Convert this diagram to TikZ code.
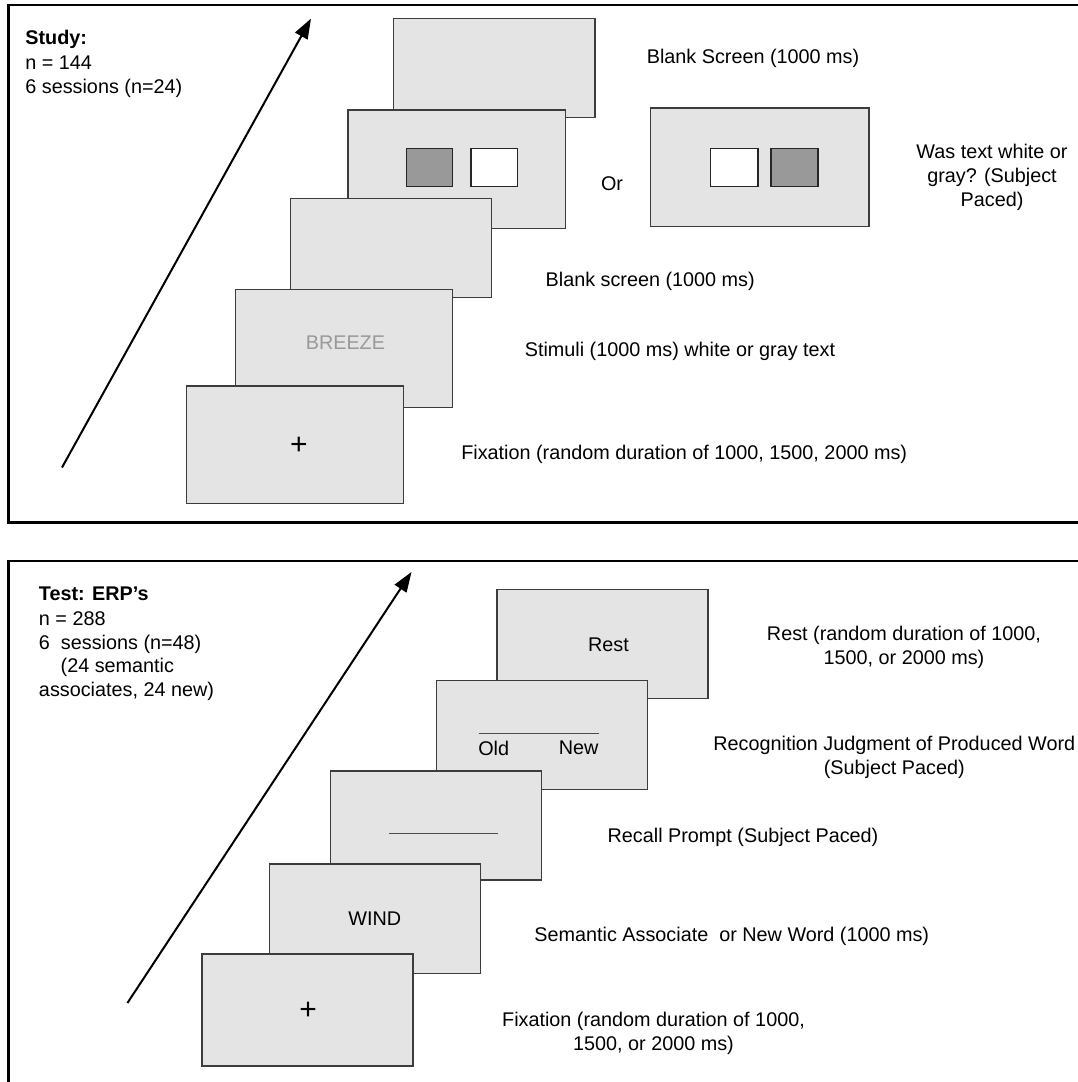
\documentclass[tikz,border=0pt]{standalone}
\usepackage{fontspec}
\setmainfont{Liberation Sans}
\usepackage{xcolor}
\usepackage{tikz}
\usetikzlibrary{arrows.meta, positioning, calc}

\definecolor{screenfill}{HTML}{E4E4E4}
\definecolor{screenline}{HTML}{3C3C3C}
\definecolor{swatchgray}{HTML}{999999}

\tikzset{
  screen/.style={draw=screenline, fill=screenfill, line width=0.75pt},
  swatch/.style={draw=black!85, line width=0.7pt},
  panel/.style={draw=black, line width=1.1pt},
  timeline/.style={line width=1pt, -{Triangle[length=10pt, width=7pt]}},
  answerline/.style={draw=black!70, line width=0.5pt},
  lbl/.style={inner sep=0pt, align=center},
  info/.style={inner sep=0pt, anchor=base west},
  cross/.style={inner sep=0pt, font=\fontsize{15}{16}\selectfont},
}

\begin{document}
\begin{tikzpicture}[x=0.5pt, y=-0.5pt, font=\fontsize{9.9}{12}\selectfont]
    \useasboundingbox (0,0) rectangle (1077,1082);

    % study phase
    \draw[panel] (8.5,5) rectangle (1095,522.5);
    \node[info] (studyhead) at (25,44) {\textbf{Study:}};
    \node[info] (studyn) at (25,69) {n = 144};
    \node[info] (studysess) at (25,93) {6 sessions (n=24)};

    \coordinate (studystart) at (62,467.5);
    \coordinate (studyend) at (311,18.6);
    \draw[timeline] (studystart) -- (studyend);

    \draw[screen] (393.6,18.6) rectangle (594.8,117.6);
    \node[lbl] (blankonelbl) at (753,58) {Blank Screen (1000 ms)};

    \draw[screen] (347.8,110) rectangle (565.3,228.5);
    \draw[swatch, fill=swatchgray] (406.3,148.7) rectangle (452.5,186.3);
    \draw[swatch, fill=white] (471,148.7) rectangle (517.6,186.3);
    \node[lbl] (orlbl) at (612,183.2) {Or};
    \draw[screen] (650.6,108.2) rectangle (868.8,226.5);
    \draw[swatch, fill=white] (710.2,148.7) rectangle (757.8,186.3);
    \draw[swatch, fill=swatchgray] (770.8,148.7) rectangle (818,186.3);
    \node[lbl] (colourlbl) at (992,177.5) {Was text white or\\gray? (Subject\\Paced)};

    \draw[screen] (290.3,198.4) rectangle (491.7,297.5);
    \node[lbl] (blanktwolbl) at (650.2,281.6) {Blank screen (1000 ms)};

    \draw[screen] (235.5,289.7) rectangle (452.5,407.7);
    \node[lbl, text=swatchgray] (breeze) at (345.4,342.5) {BREEZE};
    \node[lbl] (stimlbl) at (680,351.6) {Stimuli (1000 ms) white or gray text};

    \draw[screen] (186.3,386) rectangle (403.6,503.7);
    \node[cross] (studycross) at (299,445.6) {+};
    \node[lbl] (studyfixlbl) at (684.2,454) {Fixation (random duration of 1000, 1500, 2000 ms)};

    % test phase
    \draw[panel] (1095,561) -- (8.5,561) -- (8.5,1095);
    \node[info] (testhead) at (38.6,600.5) {\textbf{Test: ERP’s}};
    \node[info] (testn) at (38.6,625.3) {n = 288};
    \node[info] (testsess) at (38.6,649) {6\ \ sessions (n=48)};
    \node[info] (testsplit) at (60.3,672.8) {(24 semantic};
    \node[info] (testsplittwo) at (38.6,696.6) {associates, 24 new)};

    \coordinate (teststart) at (127.4,1003);
    \coordinate (testend) at (411.5,572);
    \draw[timeline] (teststart) -- (testend);

    \draw[screen] (497.2,589.7) rectangle (708.2,698.3);
    \node[lbl] (rest) at (608.5,644.3) {Rest};
    \node[lbl] (restlbl) at (904,647.6) {Rest (random duration of 1000,\\1500, or 2000 ms)};

    \draw[screen] (436.3,680.6) rectangle (647.5,789.6);
    \draw[answerline] (478.7,733) -- (599.3,733);
    \node[lbl] (old) at (493.7,748) {Old};
    \node[lbl] (new) at (578.6,748) {New};
    \node[lbl] (judgelbl) at (894.3,757) {Recognition Judgment of Produced Word\\(Subject Paced)};

    \draw[screen] (330.6,771.2) rectangle (541.5,880.2);
    \draw[answerline] (389,833.7) -- (497.6,833.7);
    \node[lbl] (recalllbl) at (743,837.4) {Recall Prompt (Subject Paced)};

    \draw[screen] (269.6,864.2) rectangle (480.5,973.5);
    \node[lbl] (wind) at (374.7,918.8) {WIND};
    \node[lbl] (semlbl) at (731.8,936) {Semantic Associate\ \ or New Word (1000 ms)};

    \draw[screen] (202.1,953.8) rectangle (413.2,1065.8);
    \node[cross] (testcross) at (308.2,1010.5) {+};
    \node[lbl] (testfixlbl) at (653.5,1032.9) {Fixation (random duration of 1000,\\1500, or 2000 ms)};
\end{tikzpicture}
\end{document}
